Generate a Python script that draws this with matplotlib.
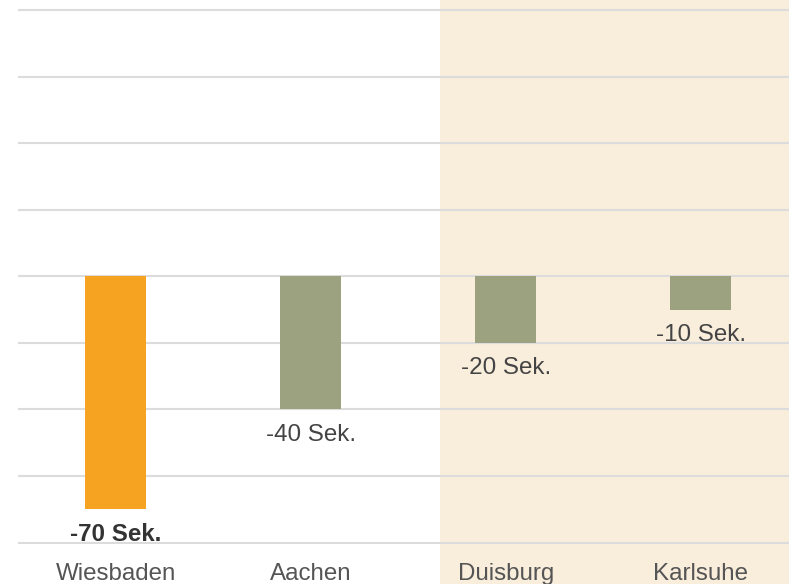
import matplotlib
matplotlib.use("Agg")
import matplotlib.pyplot as plt

cities = ["Wiesbaden", "Aachen", "Duisburg", "Karlsuhe"]
values = [-70, -40, -20, -10]
labels = ["-70 Sek.", "-40 Sek.", "-20 Sek.", "-10 Sek."]
highlight = [True, False, False, False]
grid_ticks = [-80, -60, -40, -20, 0, 20, 40, 60, 80]

plt.rcParams['font.family'] = ['Liberation Sans', 'DejaVu Sans']

fig = plt.figure(figsize=(7.89, 5.84), dpi=100)
ax = fig.add_axes([18/789, 40/584, 1 - 18/789, 544/584])

orange = "#F5A320"
green = "#9CA180"
shade = "#F9EDDC"

x = list(range(len(cities)))
colors = [orange if h else green for h in highlight]
ax.bar(x, values, width=0.313, color=colors, zorder=3)

ax.set_xlim(-0.502, 3.452)
ax.set_ylim(-80.4, 83)
ax.set_yticks(grid_ticks)
ax.yaxis.grid(True, color="#DCDCDC", linewidth=1.5, zorder=1)
ax.set_axisbelow(True)
ax.tick_params(axis='y', length=0, labelleft=False)
ax.set_xticks(x)
ax.set_xticklabels(cities, fontsize=17.4, color="#555555")
ax.tick_params(axis='x', length=0, pad=14)
for s in ax.spines.values():
    s.set_visible(False)

ax.axvspan(1.662, 3.452, ymin=-0.1, ymax=1, color=shade, zorder=0, clip_on=False, lw=0)

for xi, v, lab, h in zip(x, values, labels, highlight):
    ax.annotate(lab, xy=(xi, v), xytext=(0, -18.2), textcoords="offset points",
                ha="center", va="center", fontsize=17.4,
                color="#333333" if h else "#444444",
                fontweight="bold" if h else "normal", zorder=4)

fig.savefig("out.png", dpi=100)
